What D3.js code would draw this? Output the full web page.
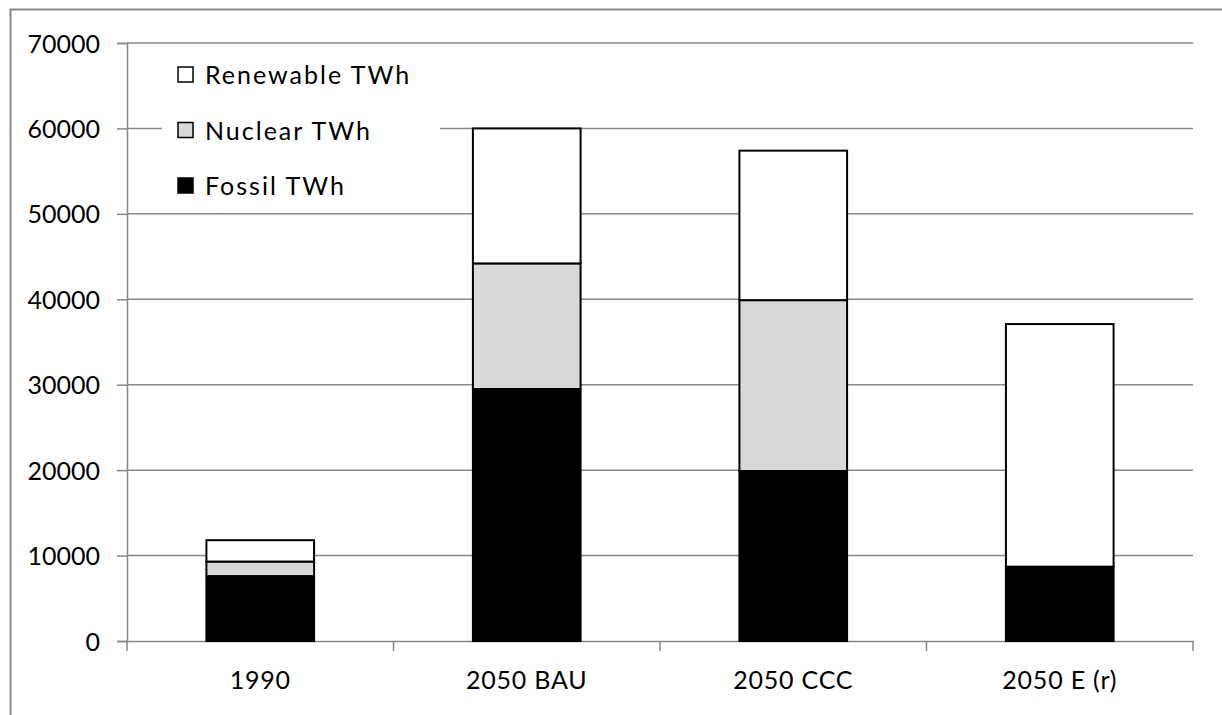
<!DOCTYPE html>
<html><head><meta charset="utf-8">
<script src="https://cdn.jsdelivr.net/npm/d3@7"></script>
<style>
html,body{margin:0;padding:0;background:#fff;}
svg text{font-family:Lato,"Liberation Sans",sans-serif;fill:#000;}
</style></head>
<body>
<script>
const categories = ["1990", "2050 BAU", "2050 CCC", "2050 E (r)"];
const fossil = [7600, 29500, 19900, 8700];
const nuclear = [1700, 14700, 20000, 0];
const renewable = [2500, 15800, 17500, 28400];
const seriesNames = ["Fossil TWh", "Nuclear TWh", "Renewable TWh"];
const seriesColors = ["#000000", "#d9d9d9", "#ffffff"];
const yTicks = [0, 10000, 20000, 30000, 40000, 50000, 60000, 70000];

const W = 1222, H = 715;
const svg = d3.select("body").append("svg").attr("width", W).attr("height", H);

// outer frame
svg.append("rect").attr("x", 10.5).attr("y", 9.5).attr("width", 1240).attr("height", 760)
  .attr("fill", "none").attr("stroke", "#888").attr("stroke-width", 2);

const pLeft = 127, pRight = 1193, pTop = 43, pBottom = 641;
const x = d3.scaleBand().domain(categories).range([pLeft, pRight]).paddingInner(0.596).paddingOuter(0.298);
const xBand = d3.scaleBand().domain(categories).range([pLeft, pRight]);
const y = d3.scaleLinear().domain([0, 70000]).range([pBottom, pTop]);

// gridlines
svg.append("g").selectAll("line").data(yTicks.filter(d => d > 0)).join("line")
  .attr("x1", pLeft).attr("x2", pRight).attr("y1", d => y(d)).attr("y2", d => y(d))
  .attr("stroke", "#888").attr("stroke-width", 1.5);

// y axis
const yAxis = svg.append("g").attr("transform", `translate(${pLeft},0)`)
  .call(d3.axisLeft(y).tickValues(yTicks).tickSize(10).tickPadding(17).tickFormat(d3.format("d")));
yAxis.select(".domain").attr("stroke", "#888").attr("stroke-width", 1.5);
yAxis.selectAll(".tick line").attr("stroke", "#888").attr("stroke-width", 1.5);
yAxis.selectAll("text").attr("font-size", 25).attr("dy", "0.36em");

// x axis
const xAxis = svg.append("g").attr("transform", `translate(0,${pBottom})`)
  .call(d3.axisBottom(xBand).tickSize(0).tickPadding(30));
xAxis.select(".domain").attr("stroke", "#888").attr("stroke-width", 1.5);
xAxis.selectAll("text").attr("font-size", 25).attr("dy", "0.71em").style("letter-spacing", "0.8px");
// boundary ticks
const tickPos = categories.map(c => xBand(c)).concat([pRight]);
xAxis.append("g").selectAll("line").data(tickPos).join("line")
  .attr("x1", d => d).attr("x2", d => d).attr("y1", 0).attr("y2", 10)
  .attr("stroke", "#888").attr("stroke-width", 1.5);

// stacked bars
const rows = categories.map((c, i) => ({cat: c, f: fossil[i], n: nuclear[i], r: renewable[i]}));
const stack = d3.stack().keys(["f", "n", "r"])(rows);
svg.append("g").selectAll("g").data(stack).join("g")
  .attr("fill", (d, i) => seriesColors[i])
  .selectAll("rect").data(d => d.filter(s => s[1] > s[0])).join("rect")
  .attr("x", d => x(d.data.cat)).attr("width", x.bandwidth())
  .attr("y", d => y(d[1])).attr("height", d => y(d[0]) - y(d[1]))
  .attr("stroke", "#000").attr("stroke-width", 2);

// legend
const lg = svg.append("g");
lg.append("rect").attr("x", 162).attr("y", 46).attr("width", 278).attr("height", 164).attr("fill", "#fff");
const legendItems = [2, 1, 0];
legendItems.forEach((si, k) => {
  const cy = 75 + k * 55.5;
  lg.append("rect").attr("x", 178).attr("y", cy - 8).attr("width", 15).attr("height", 15)
    .attr("fill", seriesColors[si]).attr("stroke", "#000").attr("stroke-width", 1.5);
  lg.append("text").attr("x", 205).attr("y", cy).attr("dy", "0.36em")
    .attr("font-size", 25).style("letter-spacing", "2px").text(seriesNames[si]);
});
</script>
</body></html>
